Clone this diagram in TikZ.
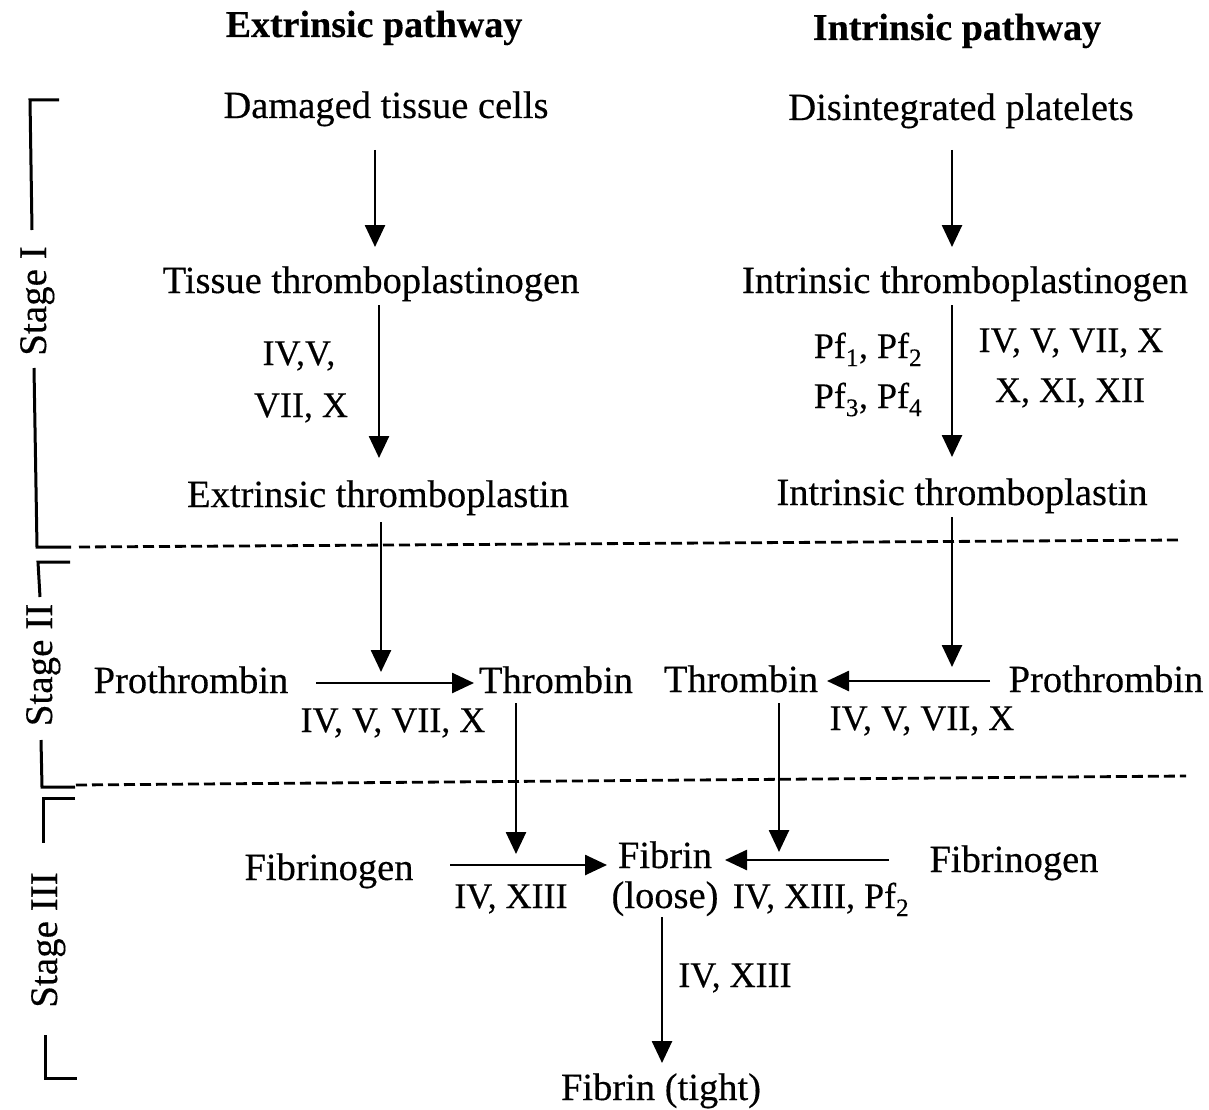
\documentclass[tikz,border=0pt]{standalone}
\usepackage{fontspec}
\setmainfont{Liberation Serif}[FakeBold=0.35]
\usetikzlibrary{arrows.meta}
\begin{document}
\begin{tikzpicture}[x=1pt,y=-1pt,
  txt/.style={font=\fontsize{38.5}{44}\selectfont, inner sep=0pt, anchor=base},
  hd/.style={font=\fontsize{38}{44}\selectfont\bfseries, inner sep=0pt, anchor=base},
  lab/.style={font=\fontsize{36}{42}\selectfont, inner sep=0pt, anchor=base},
  stg/.style={font=\fontsize{39}{44}\selectfont, inner sep=0pt, anchor=base, rotate=90},
  arr/.style={line width=2.6pt, -{Triangle[width=20pt,length=22pt]}},
  dsh/.style={line width=2.8pt, dash pattern=on 11pt off 5pt},
  brk/.style={line width=3pt}]
\useasboundingbox (0,0) rectangle (1209,1110);

% headings
\node[hd] (hE) at (374,37) {Extrinsic pathway};
\node[hd] (hI) at (957,40) {Intrinsic pathway};

% stage I
\node[txt] (dtc) at (386,118) {Damaged tissue cells};
\node[txt] (dp)  at (961,120) {Disintegrated platelets};
\node[txt] (ttg) at (371,293) {Tissue thromboplastinogen};
\node[txt] (itg) at (965,293) {Intrinsic thromboplastinogen};
\node[lab] (lA) at (299,365) {IV,V,};
\node[lab] (lB) at (301,417) {VII, X};
\node[lab] (pf12) at (868,358) {Pf\textsubscript{1}, Pf\textsubscript{2}};
\node[lab] (pf34) at (868,408) {Pf\textsubscript{3}, Pf\textsubscript{4}};
\node[lab] (rA) at (1071,352) {IV, V, VII, X};
\node[lab] (rB) at (1070,402) {X, XI, XII};
\node[txt] (etp) at (378,507) {Extrinsic thromboplastin};
\node[txt] (itp) at (962,505) {Intrinsic thromboplastin};

% stage II
\node[txt] (proL) at (191,693) {Prothrombin};
\node[txt] (thrL) at (556,693) {Thrombin};
\node[txt] (thrR) at (741,692) {Thrombin};
\node[txt] (proR) at (1106,692) {Prothrombin};
\node[lab] (lpL) at (393,732) {IV, V, VII, X};
\node[lab] (lpR) at (922,730) {IV, V, VII, X};

% stage III
\node[txt] (fgL) at (329,880) {Fibrinogen};
\node[txt] (fibL) at (665,868) {Fibrin};
\node[txt] (loose) at (665,908) {(loose)};
\node[lab] (lfL) at (511,908) {IV, XIII};
\node[lab] (lfR) at (821,908) {IV, XIII, Pf\textsubscript{2}};
\node[txt] (fgR) at (1014,872) {Fibrinogen};
\node[lab] (lbot) at (735,987) {IV, XIII};
\node[txt] (fibT) at (661,1100) {Fibrin (tight)};

% junction coordinates
\coordinate (j1) at (381,672);
\coordinate (j2) at (952,667);
\coordinate (j3) at (516,854);
\coordinate (j4) at (779,852);

% arrows
\draw[arr] ([xshift=-11pt,yshift=-32pt]dtc.base) -- ([xshift=4pt,yshift=46pt]ttg.base);
\draw[arr] ([xshift=-9pt,yshift=-30pt]dp.base) -- ([xshift=-13pt,yshift=46pt]itg.base);
\draw[arr] ([xshift=8pt,yshift=-12pt]ttg.base) -- ([xshift=1pt,yshift=49pt]etp.base);
\draw[arr] ([xshift=-13pt,yshift=-12pt]itg.base) -- ([xshift=-10pt,yshift=48pt]itp.base);
\draw[arr] ([xshift=3pt,yshift=-15pt]etp.base) -- (j1);
\draw[arr] ([xshift=-10pt,yshift=-12pt]itp.base) -- (j2);
\draw[arr] ([xshift=125pt,yshift=10pt]proL.base) -- ([xshift=-82pt,yshift=10pt]thrL.base);
\draw[arr] ([xshift=-116pt,yshift=11pt]proR.base) -- ([xshift=86pt,yshift=11pt]thrR.base);
\draw[arr] ([xshift=-40pt,yshift=-10pt]thrL.base) -- (j3);
\draw[arr] ([xshift=38pt,yshift=-11pt]thrR.base) -- (j4);
\draw[arr] ([xshift=121pt,yshift=15pt]fgL.base) -- ([xshift=-58pt,yshift=3pt]fibL.base);
\draw[arr] ([xshift=-125pt,yshift=12pt]fgR.base) -- ([xshift=60pt,yshift=8pt]fibL.base);
\draw[arr] ([xshift=-3pt,yshift=-9pt]loose.base) -- ([xshift=1pt,yshift=37pt]fibT.base);

% dashed separators
\coordinate (da1) at (79,547); \coordinate (da2) at (1181,540);
\coordinate (db1) at (76,785); \coordinate (db2) at (1186,776);
\draw[dsh] (da1) -- (da2);
\draw[dsh] (db1) -- (db2);

% stage brackets
\draw[brk] (59,100) -- (30,100) -- (32,230);
\draw[brk] (34,368) -- (37,547) -- (71,547);
\node[stg] (s1) at (46,301) {Stage I};
\draw[brk] (70,562) -- (38,562) -- (40,597);
\draw[brk] (41,740) -- (42,787) -- (75,787);
\node[stg] (s2) at (52,665) {Stage II};
\draw[brk] (75,798) -- (43,798) -- (43,843);
\draw[brk] (45,1035) -- (45,1078) -- (77,1078);
\node[stg] (s3) at (57,940) {Stage III};
\end{tikzpicture}
\end{document}
